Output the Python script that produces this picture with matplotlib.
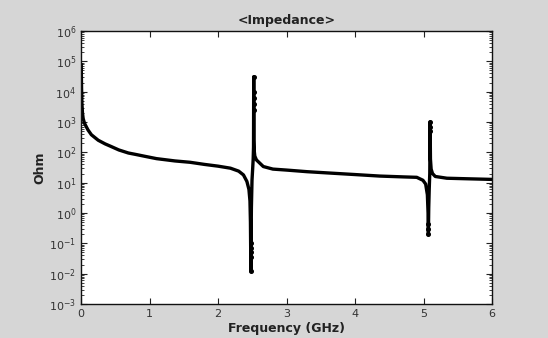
import matplotlib
matplotlib.use("Agg")
import matplotlib.pyplot as plt
from matplotlib.ticker import LogLocator, FixedLocator

# ---- data (frequency in GHz, impedance in Ohm) ----
freq = [0.002, 0.004, 0.007, 0.012, 0.02, 0.03, 0.05, 0.1, 0.15, 0.25, 0.35,
        0.44, 0.55, 0.69, 0.8, 0.93, 1.1, 1.37, 1.59, 1.8, 2.0, 2.18, 2.3,
        2.37, 2.42, 2.45, 2.465, 2.472, 2.476, 2.478, 2.481, 2.486, 2.495,
        2.505, 2.512, 2.517, 2.52, 2.523, 2.528, 2.536, 2.56, 2.66, 2.8, 3.0,
        3.3, 3.59, 4.0, 4.36, 4.7, 4.9, 4.99, 5.03, 5.055, 5.065, 5.07,
        5.075, 5.082, 5.09, 5.095, 5.1, 5.11, 5.13, 5.17, 5.34, 5.6, 6.0]
ohm = [7.6e4, 3.5e4, 1.2e4, 4.0e3, 2.0e3, 1.3e3, 900, 550, 380, 250, 190,
       155, 120, 95, 85, 74, 62, 52, 47, 40, 35, 30, 24,
       18, 11, 6, 2.5, 0.5, 0.05, 0.012, 0.08, 1.5, 12,
       30, 60, 150, 3.1e4, 250, 110, 75, 56, 34, 28, 26,
       23, 21, 18.5, 16.5, 15.5, 15, 12, 9, 4, 1.0, 0.2,
       1.5, 6, 20, 1.0e3, 60, 28, 20, 16, 14, 13.5, 12.8]

# discrete samples visible as dots at the two resonances
dot_freq = [2.478, 2.478, 2.478, 2.478, 2.478, 2.52, 2.52, 2.52, 2.52, 2.52,
            5.07, 5.07, 5.07, 5.095, 5.095, 5.095]
dot_ohm = [0.012, 0.035, 0.05, 0.07, 0.1, 3.1e4, 1.0e4, 6.3e3, 4.0e3, 2.5e3,
           0.2, 0.3, 0.45, 1.0e3, 700, 500]

x_ticks = [0, 1, 2, 3, 4, 5, 6]
y_ticks = [1e-3, 1e-2, 1e-1, 1e0, 1e1, 1e2, 1e3, 1e4, 1e5, 1e6]

fig = plt.figure(figsize=(5.48, 3.38), dpi=100, facecolor="#d6d6d6")
ax = fig.add_axes([0.148, 0.1006, 0.750, 0.8077])
ax.set_facecolor("white")

ax.plot(freq, ohm, color="black", lw=2.4, solid_joinstyle="round")
ax.plot(dot_freq, dot_ohm, "o", color="black", ms=2.6, lw=0)

ax.set_yscale("log")
ax.set_xlim(0, 6)
ax.set_ylim(1e-3, 1e6)
ax.xaxis.set_major_locator(FixedLocator(x_ticks))
ax.yaxis.set_major_locator(FixedLocator(y_ticks))
ax.yaxis.set_minor_locator(LogLocator(base=10, subs=range(2, 10), numticks=20))

ax.tick_params(axis="both", which="both", direction="in", top=True, right=True,
               colors="#222222", labelcolor="#333333", labelsize=8)
ax.tick_params(which="major", length=4, width=0.8)
ax.tick_params(which="minor", length=2, width=0.6)
for s in ax.spines.values():
    s.set_linewidth(1.0)
    s.set_color("#111111")

ax.set_title("<Impedance>", fontsize=9, fontweight="bold", color="#222222", pad=5)
ax.set_xlabel("Frequency (GHz)", fontsize=9, fontweight="bold", color="#222222", labelpad=2)
ax.set_ylabel("Ohm", fontsize=9, fontweight="bold", color="#222222", labelpad=2)

fig.savefig("out.png", dpi=100, facecolor=fig.get_facecolor())
